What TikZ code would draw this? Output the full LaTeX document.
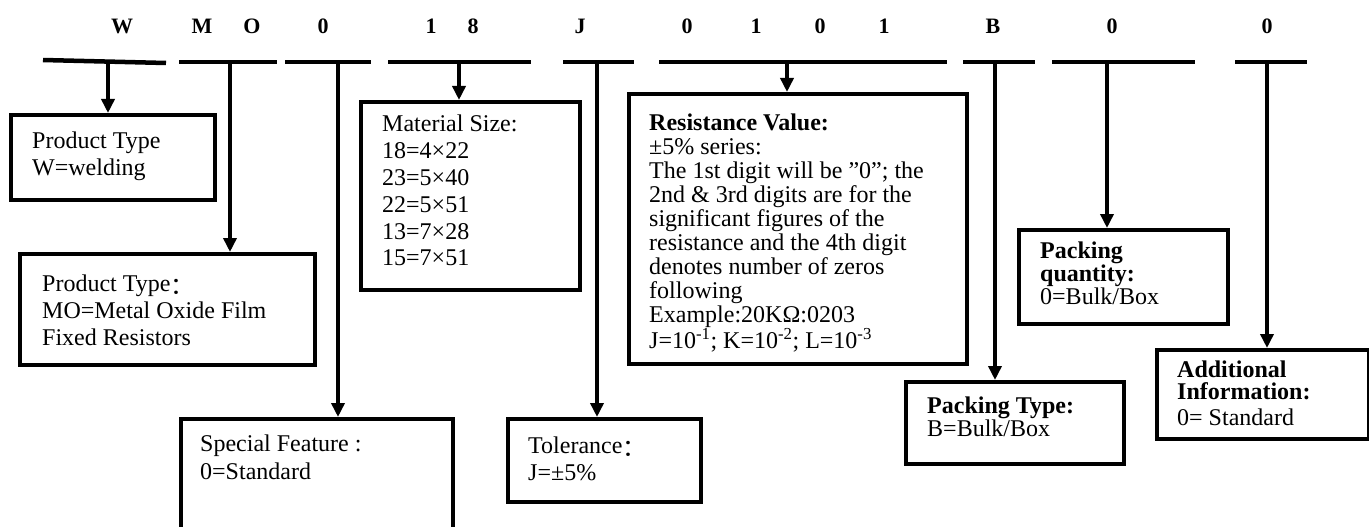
\documentclass[tikz,border=0pt]{standalone}
\usepackage{fontspec}
\setmainfont{Liberation Serif}
\newfontfamily\cjk{Noto Sans CJK SC}
\newcommand{\fwcolon}{\raisebox{-2.5pt}{\cjk ：}}
\usetikzlibrary{arrows.meta}
\begin{document}
\begin{tikzpicture}[x=1pt,y=-1pt,
  box/.style={draw,line width=4pt,inner sep=0pt,anchor=north west},
  txt/.style={anchor=north west,inner sep=0pt,align=left},
  bar/.style={line width=4.5pt},
  conn/.style={line width=3.5pt,-{Triangle[width=13pt,length=14pt]}},
  digit/.style={font=\fontsize{22}{22}\selectfont\bfseries,inner sep=0pt}]
\useasboundingbox (0,0) rectangle (1369,527);
\fill[white] (0,0) rectangle (1369,527);
\clip (0,0) rectangle (1369,527);

% code letters
\node[digit] (d1) at (122,26) {W};
\node[digit] (d2) at (202,26) {M};
\node[digit] (d3) at (252,26) {O};
\node[digit] (d4) at (323,26) {0};
\node[digit] (d5) at (431,26) {1};
\node[digit] (d6) at (473,26) {8};
\node[digit] (d7) at (580,26) {J};
\node[digit] (d8) at (687,26) {0};
\node[digit] (d9) at (756,26) {1};
\node[digit] (d10) at (820,26) {0};
\node[digit] (d11) at (884,26) {1};
\node[digit] (d12) at (993,26) {B};
\node[digit] (d13) at (1112,26) {0};
\node[digit] (d14) at (1267,26) {0};

% bars
\coordinate (b1l) at (43,60);   \coordinate (b1r) at (166,63);
\coordinate (b2l) at (179,62);  \coordinate (b2r) at (277,62);
\coordinate (b3l) at (285,62);  \coordinate (b3r) at (371,62);
\coordinate (b4l) at (388,62);  \coordinate (b4r) at (531,62);
\coordinate (b5l) at (563,62);  \coordinate (b5r) at (634,62);
\coordinate (b6l) at (659,62);  \coordinate (b6r) at (947,62);
\coordinate (b7l) at (963,62);  \coordinate (b7r) at (1035,62);
\coordinate (b8l) at (1052,62); \coordinate (b8r) at (1195,62);
\coordinate (b9l) at (1235,62); \coordinate (b9r) at (1307,62);
\foreach \i in {1,...,9} {\draw[bar] (b\i l) -- (b\i r);}

% boxes
\node[box,minimum width=204pt,minimum height=85pt] (pt1) at (9,113) {};
\node[box,minimum width=295pt,minimum height=111pt] (pt2) at (18,252) {};
\node[box,minimum width=272pt,minimum height=140pt] (sf) at (179,417) {};
\node[box,minimum width=219pt,minimum height=188pt] (mat) at (359,100) {};
\node[box,minimum width=193pt,minimum height=83pt] (tol) at (506,417) {};
\node[box,minimum width=338pt,minimum height=270pt] (res) at (627,92) {};
\node[box,minimum width=218pt,minimum height=82pt] (pty) at (904,380) {};
\node[box,minimum width=209pt,minimum height=94pt] (pq) at (1017,228) {};
\node[box,minimum width=212pt,minimum height=89pt] (add) at (1155,348) {};

% texts
\node[txt,font=\fontsize{24}{27}\selectfont] (t1) at (32,132) {Product Type\\W=welding};
\node[txt,font=\fontsize{24}{27}\selectfont] (t2) at (42,275) {Product Type\fwcolon\\MO=Metal Oxide Film\\Fixed Resistors};
\node[txt,font=\fontsize{24}{28}\selectfont] (t3) at (200,435) {Special Feature :\\0=Standard};
\node[txt,font=\fontsize{24}{26.8}\selectfont] (t4) at (382,115) {Material Size:\\18=4×22\\23=5×40\\22=5×51\\13=7×28\\15=7×51};
\node[txt,font=\fontsize{24}{27}\selectfont] (t5) at (528,437) {Tolerance\fwcolon\\J=±5\%};
\node[txt,font=\fontsize{24}{23.9}\selectfont] (t6) at (649,114) {\textbf{Resistance Value:}\\±5\% series:\\The 1st digit will be ”0”; the\\2nd \& 3rd digits are for the\\significant figures of the\\resistance and the 4th digit\\denotes number of zeros\\following\\Example:20KΩ:0203\\J=10\textsuperscript{-1}; K=10\textsuperscript{-2}; L=10\textsuperscript{-3}};
\node[txt,font=\fontsize{24}{23}\selectfont] (t7) at (927,397) {\textbf{Packing Type:}\\B=Bulk/Box};
\node[txt,font=\fontsize{24}{21.5}\selectfont] (t8) at (1040,242) {\textbf{Packing}\\\textbf{quantity:}\\0=Bulk/Box};
\node[txt,font=\fontsize{24}{21.5}\selectfont] (t9) at (1177,361) {\textbf{Additional}\\\textbf{Information:}\\[5pt]0= Standard};

% connectors
\coordinate (a1) at (108,62);
\coordinate (a2) at (230,62);
\coordinate (a3) at (338,62);
\coordinate (a4) at (459,62);
\coordinate (a5) at (597,62);
\coordinate (a6) at (787,62);
\coordinate (a7) at (995,62);
\coordinate (a8) at (1107,62);
\coordinate (a9) at (1267,62);
\draw[conn] (a1) -- (a1 |- pt1.north);
\draw[conn] (a2) -- (a2 |- pt2.north);
\draw[conn] (a3) -- (a3 |- sf.north);
\draw[conn] (a4) -- (a4 |- mat.north);
\draw[conn] (a5) -- (a5 |- tol.north);
\draw[conn] (a6) -- (a6 |- res.north);
\draw[conn] (a7) -- (a7 |- pty.north);
\draw[conn] (a8) -- (a8 |- pq.north);
\draw[conn] (a9) -- (a9 |- add.north);
\end{tikzpicture}
\end{document}
